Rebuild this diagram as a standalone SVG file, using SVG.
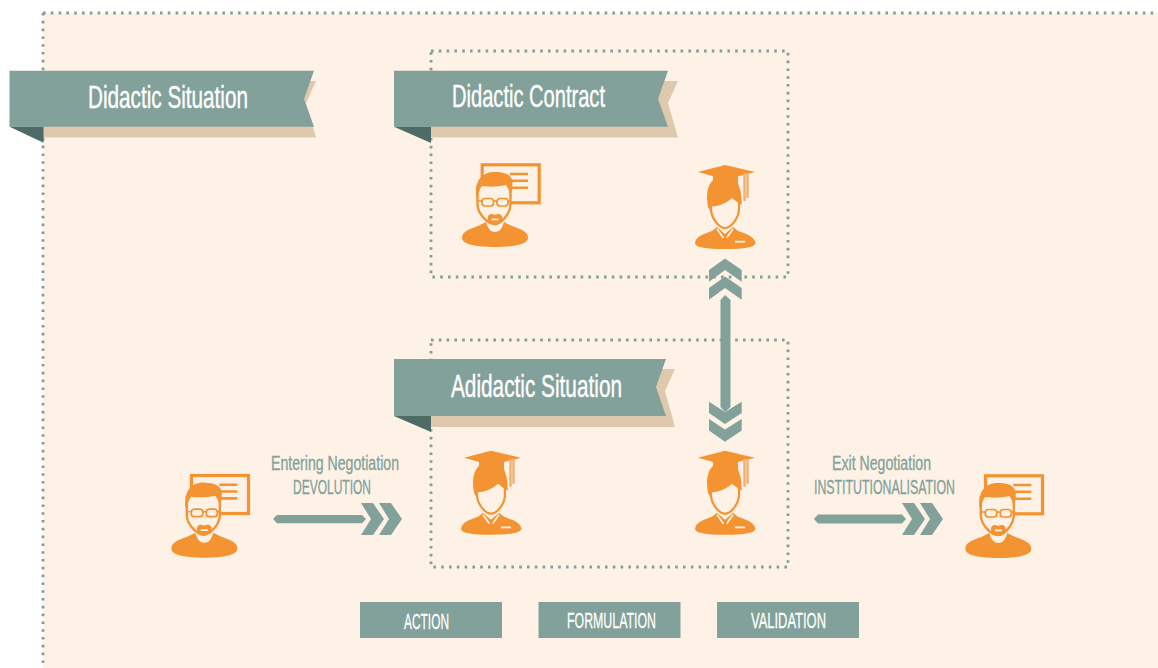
<svg xmlns="http://www.w3.org/2000/svg" width="1158" height="668" viewBox="0 0 1158 668">
<style>
text{font-family:"Liberation Sans Narrow","Liberation Sans",sans-serif;}
.dots{fill:none;stroke:#7f9f99;stroke-width:2.8;stroke-dasharray:2.6 5.2;}
.teal{fill:#82A19A;}.tan{fill:#DFC9AE;}.dark{fill:#4E6B65;}
.org{fill:#F49331;}.cream{fill:#FEF2E6;}
.line{fill:none;stroke:#F49331;}
.rib{fill:#fff;font-size:32px;stroke:#fff;stroke-width:.4;}
.btn{fill:#fff;font-size:22px;stroke:#fff;stroke-width:.3;}
.lab{fill:#82A19A;font-size:20px;stroke:#82A19A;stroke-width:.3;}
</style>
<defs>
<g id="teacher">
<rect x="482.200" y="164.800" width="57" height="38" class="line" stroke-width="3.200"/>
<path d="M510 174h18M510 180.800h18M510 187.700h18" class="line" stroke-width="2.600"/>
<path class="org" d="M462 238C462 231 470 229 478 226L486 222C488 229 491 232 495 232C499 232 502 229 504 222L512 226C520 229 528 231 528 238C528 244 515 247 495 247C475 247 462 244 462 238Z"/>
<path class="cream" d="M477.500 185V205C478 214 488 224 494.500 224C501 224 510 214 510.500 205V185Z"/>
<path class="line" stroke-width="2.400" d="M477.500 185V205C478 214 488 224 494.500 224C501 224 510 214 510.500 205V185"/>
<path class="org" d="M476 196C475 180 482 171 496 172C506 172 512.500 176 512.500 182C512.500 188 511.500 192 510.500 196C509.500 191 508 188 506 185C497 187 488 187 482 186C480 188 479 191 478 196Z"/>
<rect x="482" y="198.500" width="11.500" height="7.500" rx="3" class="line" stroke-width="1.700"/>
<rect x="497" y="198.500" width="11" height="7.500" rx="3" class="line" stroke-width="1.700"/>
<path d="M493.500 201h3.500M478 201h4M508 201h3" class="line" stroke-width="1.500"/>
<path class="org" d="M488 216C490 213 493 214 495 215C497 214 500 213 502 216C503 219 502 224 495 224C488 224 487 219 488 216Z"/>
<path class="cream" d="M491.500 218.500h7v1.800h-7z"/>
</g>
<g id="student">
<path class="org" d="M695 243C696 236 704 234 712 231L717 227L725 234L733 227L738 231C746 234 754 236 755.500 243C755 247 745 249 725 249C705 249 695 247 695 243Z"/>
<path d="M717 229L723.500 238M733 229L726.500 238" stroke="#FEF2E6" stroke-width="1.800" fill="none"/>
<path class="cream" d="M735 240.800h10v1.800h-10z"/>
<path class="org" d="M722.500 234.500h5l-1 3 1.200 5-2.200 2.500-2.200-2.500 1.200-5z"/>
<path class="cream" d="M711 190H739V209C739 218 731 228 725 228S711 218 711 209Z"/>
<path class="line" stroke-width="2.200" d="M711 190V209C711 218 719 228 725 228S739 218 739 209V190"/>
<path class="org" d="M708 207C706 195 707 186 713 180H736C740 186 742 195 741.700 205C739.500 203 735 201 732 198C727 203 719 206 712 206.500L709.500 210Z"/>
<path class="org" d="M698 172L725 165L755 172L729 178.500Q725 179.500 721 178.500Z"/>
<path class="org" d="M713 176H738V184Q725 188 713 184Z"/>
<path d="M744.500 173V201M747.500 173V198" stroke="#EFB071" stroke-width="2.400" fill="none"/>
</g>
<polygon id="chev-h" points="361,503 373,503 384,519 373,535 361,535 371,519"/>
</defs>
<rect x="43" y="13" width="1115" height="655" class="cream"/>
<path class="dots" d="M43 13H1158M43 13V668"/>
<g id="box-contract"><rect x="431" y="51" width="357" height="226" class="dots"/></g>
<g id="box-adidactic"><rect x="431" y="340" width="357" height="227" class="dots"/></g>
<g id="ribbon-situation">
<polygon class="tan" points="43,81 316,81 306,103 316,137.500 43,137.500"/>
<polygon class="teal" points="9.500,70.700 314,70.700 304,99 314,126.700 9.500,126.700"/>
<polygon class="dark" points="9.500,126.700 43.500,126.700 43.500,142.700"/>
<text class="rib" x="88" y="108" textLength="160" lengthAdjust="spacingAndGlyphs">Didactic Situation</text>
</g>
<g id="ribbon-contract">
<polygon class="tan" points="431,81 678,81 668,103 678,137.500 431,137.500"/>
<polygon class="teal" points="394,70.700 668,70.700 658,99 668,126.700 394,126.700"/>
<polygon class="dark" points="394,126.700 431,126.700 431,143"/>
<text class="rib" x="452" y="107" textLength="153" lengthAdjust="spacingAndGlyphs">Didactic Contract</text>
</g>
<g id="ribbon-adidactic">
<polygon class="tan" points="431,369 675,369 665,391 675,427 431,427"/>
<polygon class="teal" points="394,359 666,359 656,387 666,416 394,416"/>
<polygon class="dark" points="394,416 431,416 431,432"/>
<text class="rib" x="451" y="397" textLength="171" lengthAdjust="spacingAndGlyphs">Adidactic Situation</text>
</g>
<g id="teacher-contract"><use href="#teacher"/></g>
<g id="student-contract"><use href="#student"/></g>
<g id="student-adidactic-left"><use href="#student" x="-234" y="285.700"/></g>
<g id="student-adidactic-right"><use href="#student" y="285.700"/></g>
<g id="teacher-left"><use href="#teacher" x="-290.700" y="310.700"/></g>
<g id="teacher-right"><use href="#teacher" x="503.300" y="311"/></g>
<g id="connectors" class="teal">
<polygon points="725,258.500 741.700,270 741.700,281.700 725,270 709,281.700 709,270"/>
<polygon points="725,276.500 741.700,288 741.700,299.700 725,288 709,299.700 709,288"/>
<polygon points="725,295 730.500,300 730.500,407 725,412 720.500,407 720.500,300"/>
<polygon points="709,401.700 725,412 741.700,401.700 741.700,413 725,424 709,413"/>
<polygon points="709,419 725,429.500 741.700,419 741.700,430.500 725,441.700 709,430.500"/>
<polygon points="273,519 277,515 362,515 366,519 362,523.300 277,523.300"/>
<use href="#chev-h"/>
<use href="#chev-h" x="18"/>
<polygon points="814,519 818,514.500 902,514.500 906,519 902,523.500 818,523.500"/>
<use href="#chev-h" x="541"/>
<use href="#chev-h" x="559"/>
</g>
<g id="label-entering">
<text class="lab" x="271" y="470" textLength="128" lengthAdjust="spacingAndGlyphs">Entering Negotiation</text>
<text class="lab" x="293" y="494" textLength="78" lengthAdjust="spacingAndGlyphs">DEVOLUTION</text>
</g>
<g id="label-exit">
<text class="lab" x="832" y="470" textLength="99" lengthAdjust="spacingAndGlyphs">Exit Negotiation</text>
<text class="lab" x="814" y="494" textLength="141" lengthAdjust="spacingAndGlyphs">INSTITUTIONALISATION</text>
</g>
<g id="btn-action"><rect x="360" y="602" width="142" height="36" class="teal"/><text class="btn" x="404" y="629" textLength="45" lengthAdjust="spacingAndGlyphs">ACTION</text></g>
<g id="btn-formulation"><rect x="538.500" y="602" width="142" height="36" class="teal"/><text class="btn" x="567" y="628" textLength="89" lengthAdjust="spacingAndGlyphs">FORMULATION</text></g>
<g id="btn-validation"><rect x="717" y="602" width="142" height="36" class="teal"/><text class="btn" x="751" y="628" textLength="75" lengthAdjust="spacingAndGlyphs">VALIDATION</text></g>
</svg>
